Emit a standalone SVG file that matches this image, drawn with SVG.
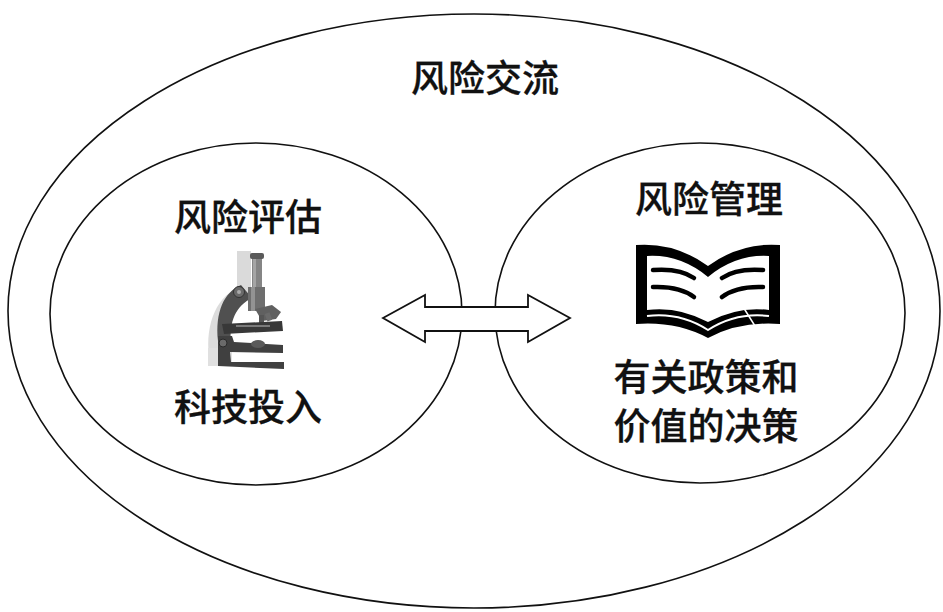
<svg xmlns="http://www.w3.org/2000/svg" width="943" height="612" viewBox="0 0 943 612">
  <style>
    .ring { fill: none; stroke: #111; stroke-width: 1.6; }
    .label { font-family: "Noto Sans CJK SC", "Noto Sans", sans-serif; font-size: 37px; font-weight: 500; fill: #111; stroke: #111; stroke-width: 0.3; text-anchor: middle; }
    .connector { fill: #fff; stroke: #111; stroke-width: 1.8; stroke-linejoin: miter; }
    .page-line { fill: none; stroke: #000; stroke-width: 4.5; stroke-linecap: round; }
  </style>
  <rect width="943" height="612" fill="#fff"/>

  <!-- outer ring: risk communication -->
  <g id="risk-communication">
    <ellipse class="ring" cx="474" cy="311" rx="466" ry="297"/>
    <text class="label" x="485" y="92">风险交流</text>
  </g>

  <!-- left ring: risk assessment with microscope -->
  <g id="risk-assessment">
    <ellipse class="ring" cx="256" cy="314" rx="206" ry="171"/>
    <text class="label" x="248" y="231">风险评估</text>
    <g id="microscope">
      <!-- pale backdrop -->
      <rect x="237" y="251" width="14" height="42" fill="#dadada"/>
      <path d="M238,288 C214,298 204,330 210,362 L228,362 C222,335 228,310 246,298 Z" fill="#dcdcdc"/>
      <rect x="208" y="348" width="24" height="18" fill="#e0e0e0"/>
      <!-- arm -->
      <path d="M241,285 C224,292 215,312 218,341 L231,343 C229,321 236,306 252,298 Z" fill="#505050"/>
      <circle cx="239" cy="292" r="5.5" fill="#6a6a6a" stroke="#333" stroke-width="1"/>
      <circle cx="239" cy="292" r="2" fill="#aaa"/>
      <!-- eyepiece and body tube -->
      <rect x="252" y="256" width="10" height="32" fill="#858585"/>
      <rect x="253" y="256" width="3" height="32" fill="#a5a5a5"/>
      <rect x="250" y="253" width="14" height="6" rx="2" fill="#5a5a5a"/>
      <rect x="248" y="287" width="17" height="24" fill="#6e6e6e"/>
      <rect x="251" y="287" width="4" height="24" fill="#939393"/>
      <!-- nosepiece and objectives -->
      <path d="M255,309 L272,305 L281,312 L276,319 L262,321 Z" fill="#606060"/>
      <rect x="259" y="315" width="5" height="9" fill="#555"/>
      <rect x="266" y="313" width="5" height="8" fill="#6a6a6a" transform="rotate(-20 268 317)"/>
      <!-- stage -->
      <path d="M222,324 L282,321 L283,331 L224,334 Z" fill="#383838"/>
      <rect x="236" y="325" width="34" height="2" fill="#7a7a7a"/>
      <!-- lower arm and base -->
      <path d="M218,336 L232,336 L234,342 L283,345 L283,353 L230,352 L231,362 L284,362 L284,369 L218,366 Z" fill="#404040"/>
      <circle cx="223" cy="343" r="4" fill="#6a6a6a" stroke="#2a2a2a" stroke-width="1"/>
      <ellipse cx="258" cy="344" rx="7" ry="4" fill="#5a5a5a"/>
    </g>
    <text class="label" x="248" y="421">科技投入</text>
  </g>

  <!-- right ring: risk management with open book -->
  <g id="risk-management">
    <ellipse class="ring" cx="700" cy="313" rx="205" ry="170"/>
    <text class="label" x="709" y="213">风险管理</text>
    <g id="book">
      <path d="M636,245 Q675,242 708,266 Q741,242 780,245 L780,324 Q740,321 708,338 Q676,321 636,324 Z" fill="#000"/>
      <path d="M647,256 Q680,254 708,277 Q736,254 769,256 L769,310 Q738,306 708,322 Q678,306 647,310 Z" fill="#fff"/>
      <path d="M647,316 Q680,312 708,330 Q736,312 769,316" fill="none" stroke="#fff" stroke-width="2"/>
      <path class="page-line" d="M653,270 Q680,268 694,278"/>
      <path class="page-line" d="M653,287 Q680,286 694,297"/>
      <path class="page-line" d="M722,278 Q736,268 763,270"/>
      <path class="page-line" d="M722,297 Q736,286 763,287"/>
      <path d="M740,302 L755,326" fill="none" stroke="#fff" stroke-width="1.5"/>
    </g>
    <text class="label" x="706" y="391">有关政策和</text>
    <text class="label" x="706" y="440">价值的决策</text>
  </g>

  <!-- two-way exchange between assessment and management -->
  <g id="connectors">
    <path class="connector" d="M383,318 L425,295 L425,307 L528,307 L528,295 L570,318 L528,342 L528,331 L425,331 L425,342 Z"/>
  </g>
</svg>
